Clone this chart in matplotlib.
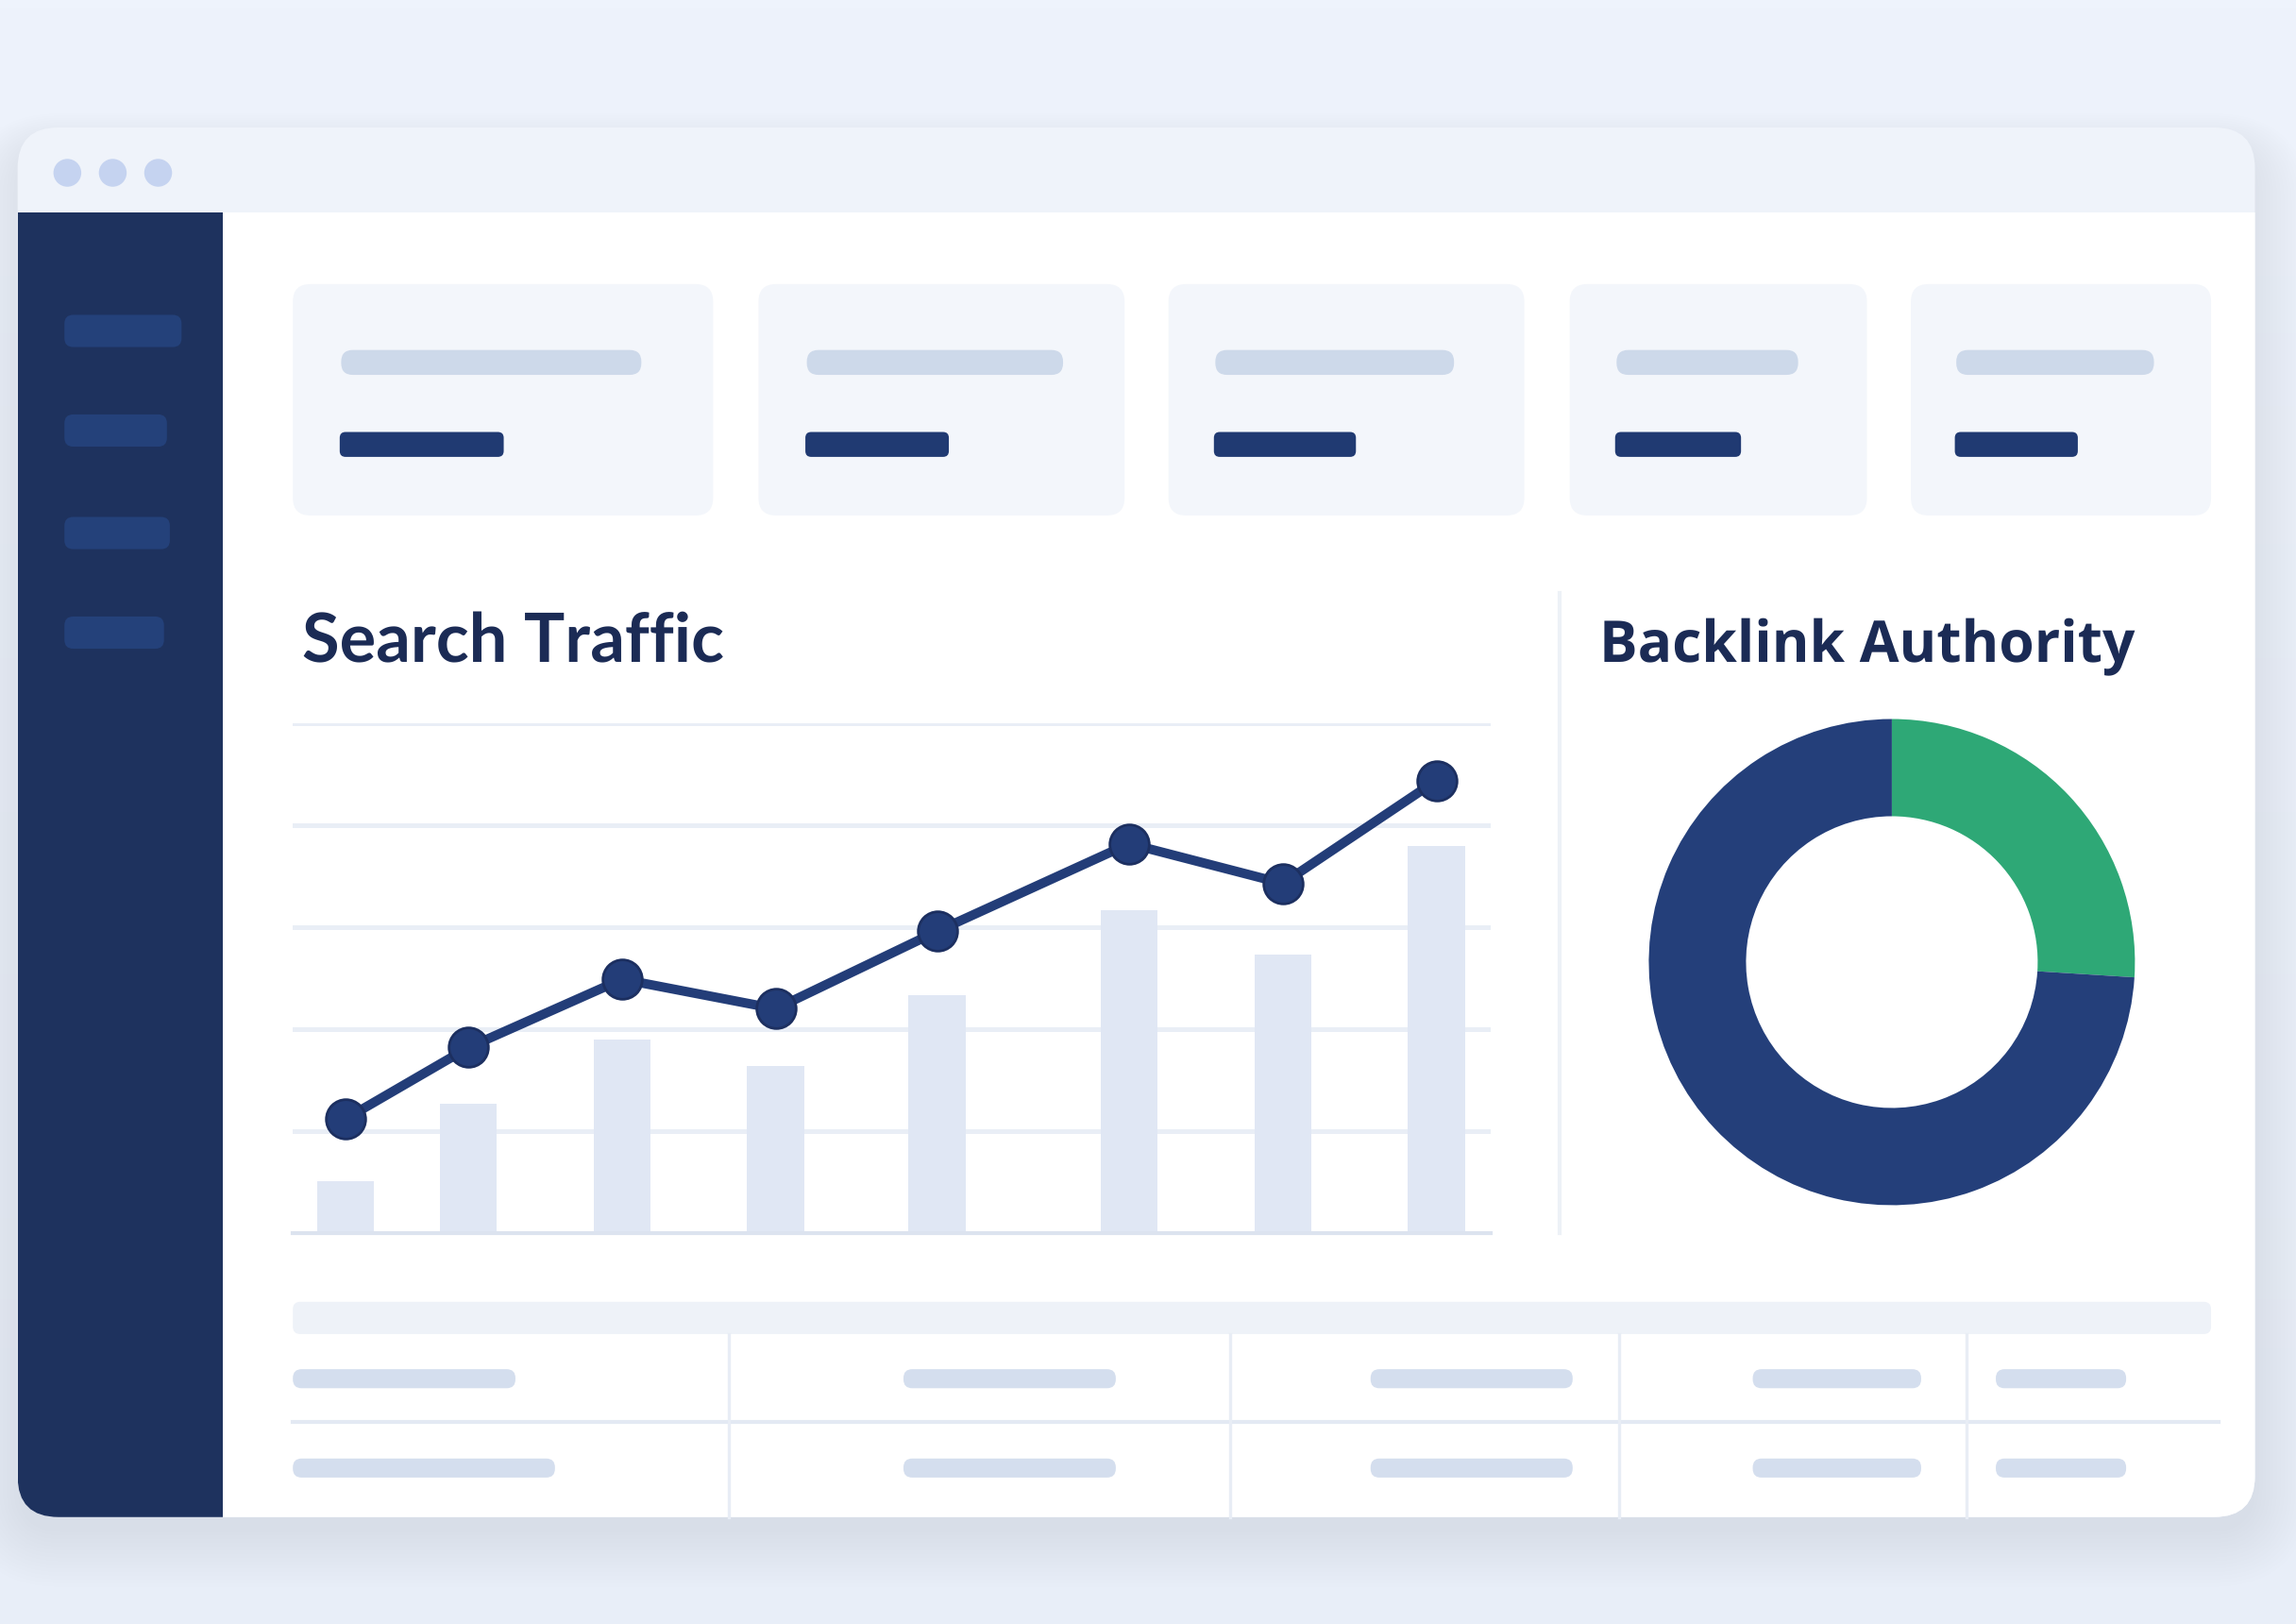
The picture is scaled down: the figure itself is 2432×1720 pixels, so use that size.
import numpy as np
import matplotlib
matplotlib.use("Agg")
import matplotlib.pyplot as plt
from matplotlib.patches import FancyBboxPatch, Rectangle, Circle
from matplotlib.colors import LinearSegmentedColormap

plt.rcParams['text.hinting'] = 'no_hinting'

# chart data
days = [0, 8, 18, 28, 38.5, 51, 61, 71]                          # x position of each sample
sessions = [510, 1270, 1900, 1640, 2330, 3170, 2730, 3800]      # bars
trend = [1120, 1820, 2490, 2200, 2960, 3820, 3430, 4440]        # line
grid_ticks = [1000, 2000, 3000, 4000, 5000]
authority_labels = ['High authority', 'Other']
authority_share = [26, 74]

navy = '#1E325E'
line_navy = '#233D78'
green = '#2EA876'

W, H = 1568, 1109  # layout units (picture px / 1.551)
fig = plt.figure(figsize=(12.16, 8.6), dpi=200)

bg = fig.add_axes([0, 0, 1, 1])
bg.set_xlim(0, W)
bg.set_ylim(H, 0)
bg.axis('off')
grad = LinearSegmentedColormap.from_list('bg', ['#EEF3FC', '#E8EEF8'])
bg.imshow(np.linspace(0, 1, 200)[:, None], extent=[0, W, H, 0], cmap=grad,
          aspect='auto', zorder=0)


def rbox(x0, y0, x1, y1, r, color, z=1, **kw):
    p = FancyBboxPatch((x0, y0), x1 - x0, y1 - y0,
                       boxstyle=f"round,pad=0,rounding_size={r}",
                       fc=color, ec='none', zorder=z, **kw)
    bg.add_patch(p)
    return p


# soft shadow behind the window
for i in range(16):
    rbox(12 - i * 2.5, 100 - i * 1.5, 1540 + i * 2.5, 1046 + i * 2.5, 30 + i * 2.5,
         '#8A9AC8', z=1, alpha=0.006)

win = rbox(12, 87, 1540, 1036, 28, '#EFF3FA', z=2)

# dots in title bar
for cx in [46, 77, 108]:
    bg.add_patch(Circle((cx, 118), 9.5, fc='#C5D3F0', ec='none', zorder=3))

# main content + sidebar, clipped to window shape
main = Rectangle((152, 145), 1540 - 152, 1036 - 145, fc='white', ec='none', zorder=3)
bg.add_patch(main)
main.set_clip_path(win)
side = Rectangle((12, 145), 140, 1036 - 145, fc=navy, ec='none', zorder=3)
bg.add_patch(side)
side.set_clip_path(win)

for (x0, x1, y0) in [(44, 124, 215), (44, 114, 283), (44, 116, 353), (44, 112, 421)]:
    rbox(x0, y0, x1, y0 + 22, 6, '#24417A', z=4)

# KPI cards
cards = [(200, 487, 233, 438, 344), (518, 768, 551, 726, 648),
         (798, 1041, 830, 993, 926), (1072, 1275, 1104, 1228, 1189),
         (1305, 1510, 1336, 1471, 1419)]
for c0, c1, l1, l2, d2 in cards:
    rbox(c0, 194, c1, 352, 12, '#F3F6FB', z=4)
    rbox(l1, 239, l2, 256, 8, '#CDD9EA', z=5)
    rbox(l1 - 1, 295, d2, 312, 4, '#203A72', z=5)

# titles
bg.text(206, 452, 'Search Traffic', fontsize=26, fontweight='bold',
        family='Lato', color='#1B2B55', va='baseline', zorder=6)
bg.text(1092, 452, 'Backlink Authority', fontsize=21.8, fontweight='bold',
        family='Open Sans', color='#1B2B55', va='baseline', zorder=6)

# divider between the two charts
bg.plot([1065, 1065], [405, 842], color='#EDF1F7', lw=1.5, zorder=4)

# table at the bottom
rbox(200, 889, 1510, 911, 5, '#EEF2F8', z=4)
bg.plot([200, 1515], [971, 971], color='#E3E9F3', lw=1.5, zorder=4)
for vx in [498, 840, 1106, 1343]:
    bg.plot([vx, vx], [911, 1036], color='#E8EDF5', lw=1.2, zorder=4)
row_pills = [[(200, 352), (617, 762), (936, 1074), (1197, 1312), (1363, 1452)],
             [(200, 379), (617, 762), (936, 1074), (1197, 1312), (1363, 1452)]]
for yy, pills in zip([935, 996], row_pills):
    for a, b in pills:
        rbox(a, yy, b, yy + 13, 6, '#D4DEEE', z=5)


def place(x0, y0, x1, y1):
    return [x0 / W, 1 - y1 / H, (x1 - x0) / W, (y1 - y0) / H]


# ---- Search Traffic chart ----
ax = fig.add_axes(place(200, 494, 1018, 842))
ax.set_facecolor('none')
step = 71 / 745
ax.set_xlim(-36 * step, 71 + 37 * step)
ax.set_ylim(0, 5000)
for t in grid_ticks:
    ax.axhline(t, color='#E9EEF6', lw=1.8, zorder=0)
ax.bar(days, sessions, width=39 * step, color='#E0E7F4', zorder=1)
ax.plot(days, trend, color=line_navy, lw=3.6, marker='o', markersize=15,
        markerfacecolor=line_navy, markeredgecolor='#1C2F60', markeredgewidth=1,
        zorder=3, clip_on=False)
for s in ['top', 'right', 'left']:
    ax.spines[s].set_visible(False)
ax.spines['bottom'].set_color('#DCE3EF')
ax.spines['bottom'].set_linewidth(1.5)
ax.set_xticks([])
ax.set_yticks([])

# ---- Backlink Authority donut ----
ax2 = fig.add_axes(place(1126, 491, 1458, 823))
ax2.pie(authority_share, labels=None, colors=[green, '#243F7A'], startangle=90,
        counterclock=False, radius=1,
        wedgeprops=dict(width=0.4, edgecolor='none'))
ax2.set_xlim(-1, 1)
ax2.set_ylim(-1, 1)
ax2.set_aspect('equal')
ax2.axis('off')

fig.savefig('out.png', dpi=200)
